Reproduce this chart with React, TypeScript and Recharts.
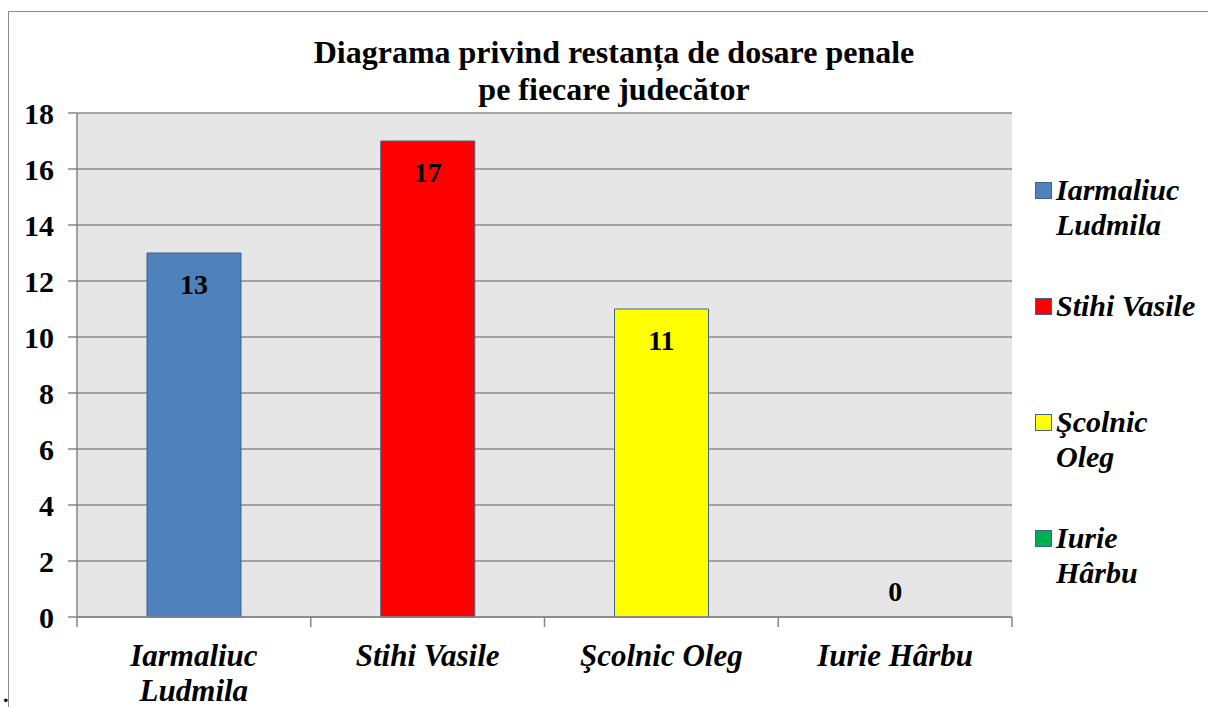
import { ComposedChart, Bar, Line, XAxis, YAxis, CartesianGrid, Legend, LabelList, Cell } from 'recharts'

const judges = ['Iarmaliuc Ludmila', 'Stihi Vasile', 'Şcolnic Oleg', 'Iurie Hârbu']
const pending = [13, 17, 11, 0]
const colors = ['#4f81bd', '#ff0000', '#ffff00', '#00b050']
const yTicks = [0, 2, 4, 6, 8, 10, 12, 14, 16, 18]

const data = judges.map((name, i) => ({ name, value: pending[i] }))

const FONT = "'Liberation Serif', 'Times New Roman', serif"
const BAND = (1012 - 77) / judges.length
const AXIS_FONT = `italic bold 31px ${FONT}`

// word wrap for the category labels, measured with canvas
function wrapWords(text: string, maxWidth: number): string[] {
    const ctx = document.createElement('canvas').getContext('2d')
    if (!ctx) return [text]
    ctx.font = AXIS_FONT
    const lines: string[] = []
    let cur = ''
    for (const w of text.split(' ')) {
        const next = cur ? cur + ' ' + w : w
        if (cur && ctx.measureText(next).width > maxWidth) {
            lines.push(cur)
            cur = w
        } else {
            cur = next
        }
    }
    if (cur) lines.push(cur)
    return lines
}

function CategoryTick(props: any) {
    const { x, y, payload, index } = props
    const left = x - BAND / 2
    const lines = wrapWords(String(payload.value), 205)
    return (
        <g>
            <line x1={left} y1={y - 8} x2={left} y2={y + 2} stroke="#868686" strokeWidth={1.5} />
            {index === judges.length - 1 && (
                <line x1={left + BAND} y1={y - 8} x2={left + BAND} y2={y + 2} stroke="#868686" strokeWidth={1.5} />
            )}
            <text
                x={x}
                y={y + 41}
                textAnchor="middle"
                style={{ fontFamily: FONT, fontSize: 31, fontWeight: 'bold', fontStyle: 'italic' }}
                fill="#000"
            >
                {lines.map((l, i) => (
                    <tspan key={i} x={x} dy={i === 0 ? 0 : 35}>
                        {l}
                    </tspan>
                ))}
            </text>
        </g>
    )
}

function ValueLabel(props: any) {
    const { x, y, value } = props
    const ty = Number(value) > 0 ? Number(y) + 31 : Number(y) - 26
    return (
        <text
            x={x}
            y={ty}
            textAnchor="middle"
            dominantBaseline="central"
            style={{ fontFamily: FONT, fontSize: 28, fontWeight: 'bold' }}
            fill="#000"
        >
            {String(value)}
        </text>
    )
}

function JudgeLegend() {
    return (
        <div style={{ fontFamily: FONT, fontSize: 30, fontWeight: 'bold', fontStyle: 'italic', lineHeight: '35px' }}>
            {judges.map((name, i) => (
                <div key={name} style={{ display: 'flex', alignItems: 'flex-start', height: 116 }}>
                    <div
                        style={{
                            width: 15,
                            height: 15,
                            marginTop: 10,
                            marginRight: 4,
                            background: colors[i],
                            border: '1px solid #41628c',
                            flexShrink: 0,
                        }}
                    />
                    <span style={{ width: 148, color: '#000' }}>{name}</span>
                </div>
            ))}
        </div>
    )
}

export default function App() {
    return (
        <div style={{ position: 'absolute', left: 0, top: 0, width: 1208, height: 707, background: '#fff', overflow: 'hidden' }}>
            <div
                style={{
                    position: 'absolute',
                    left: 8,
                    top: 11,
                    width: 1210,
                    height: 710,
                    borderTop: '1.5px solid #8a8a8a',
                    borderLeft: '1.5px solid #8a8a8a',
                }}
            />
            <div
                style={{
                    position: 'absolute',
                    left: 294,
                    top: 34,
                    width: 640,
                    textAlign: 'center',
                    fontFamily: FONT,
                    fontSize: 32,
                    fontWeight: 'bold',
                    lineHeight: '37px',
                    color: '#000',
                }}
            >
                Diagrama privind restanța de dosare penale
                <br />
                pe fiecare judecător
            </div>
            <div style={{ position: 'absolute', left: 3, top: 682, fontFamily: FONT, fontSize: 22, fontWeight: 'bold' }}>.</div>
            <ComposedChart
                width={1208}
                height={707}
                data={data}
                margin={{ top: 113, right: 26, bottom: 10, left: 17 }}
                style={{ position: 'absolute', left: 0, top: 0 }}
            >
                <CartesianGrid vertical={false} stroke="#8c8c8c" strokeWidth={1.5} fill="#e6e6e6" />
                <XAxis
                    dataKey="name"
                    height={80}
                    axisLine={{ stroke: '#868686', strokeWidth: 1.5 }}
                    tickLine={false}
                    interval={0}
                    tick={<CategoryTick />}
                />
                <YAxis
                    width={60}
                    domain={[0, 18]}
                    ticks={yTicks}
                    interval={0}
                    axisLine={{ stroke: '#868686', strokeWidth: 1.5 }}
                    tickLine={{ stroke: '#868686', strokeWidth: 1.5 }}
                    tickSize={9}
                    tick={{ fontFamily: FONT, fontSize: 30, fontWeight: 'bold', fill: '#000' }}
                    tickMargin={14}
                />
                <Legend
                    layout="vertical"
                    align="right"
                    verticalAlign="top"
                    wrapperStyle={{ left: 1035, top: 172, width: 170 }}
                    content={<JudgeLegend />}
                />
                <Bar dataKey="value" barSize={94} stroke="#41628c" strokeWidth={1} isAnimationActive={false}>
                    {data.map((d, i) => (
                        <Cell key={d.name} fill={colors[i]} />
                    ))}
                </Bar>
                {/* invisible carrier for the value labels, so the zero value gets one too */}
                <Line
                    dataKey="value"
                    stroke="none"
                    dot={false}
                    activeDot={false}
                    legendType="none"
                    isAnimationActive={false}
                >
                    <LabelList dataKey="value" content={<ValueLabel />} />
                </Line>
            </ComposedChart>
        </div>
    )
}
